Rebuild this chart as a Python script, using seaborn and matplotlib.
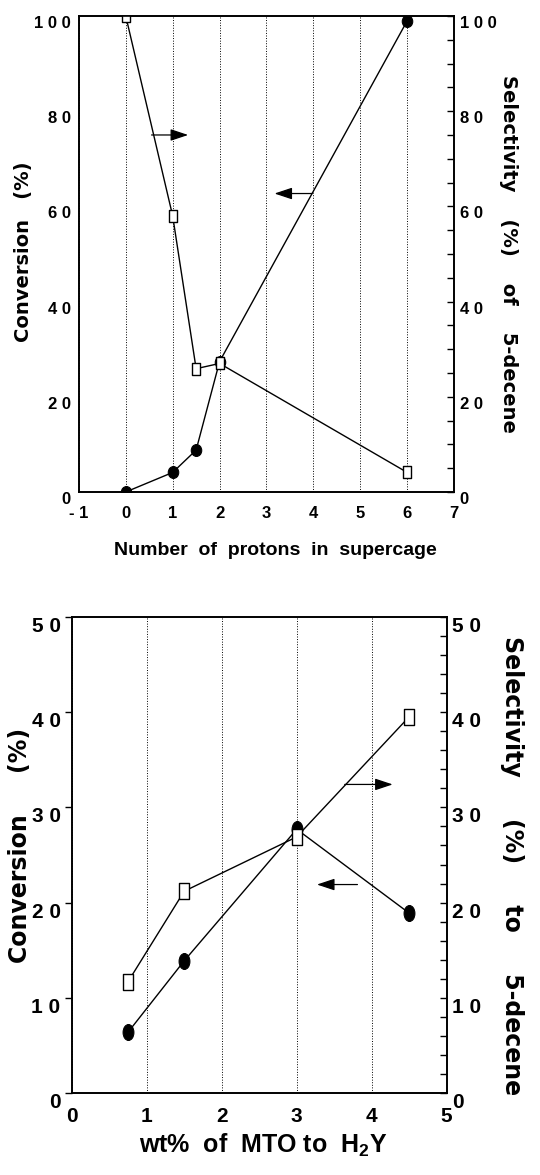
import numpy as np
import pandas as pd
import seaborn as sns
import matplotlib.pyplot as plt
import matplotlib.path as mpath
import matplotlib.transforms as mtransforms
from matplotlib.ticker import MultipleLocator, FuncFormatter

# top panel: number of protons in supercage
protons = [0, 1, 1.5, 2, 6]
conv_protons = [0, 4.1, 8.8, 27.4, 99.0]
sel_protons = [100, 58, 25.9, 27, 4.1]

# bottom panel: wt% of MTO to H2Y
mto_wt = [0.75, 1.5, 3, 4.5]
conv_mto = [6.4, 13.9, 27.7, 18.9]
sel_mto = [11.7, 21.2, 26.9, 39.5]

sns.set_style('ticks')
plt.rcParams['font.family'] = ['Liberation Sans', 'DejaVu Sans']
plt.rcParams['font.weight'] = 'bold'
plt.rcParams['axes.labelweight'] = 'bold'
for k in ['text.color', 'axes.labelcolor', 'xtick.color', 'ytick.color']:
    plt.rcParams[k] = 'black'
plt.rcParams['mathtext.fontset'] = 'custom'
plt.rcParams['mathtext.rm'] = 'Liberation Sans:bold'
plt.rcParams['mathtext.default'] = 'rm'

wide = 'DejaVu Sans'


def oval(w):
    return mpath.Path.unit_circle().transformed(mtransforms.Affine2D().scale(w, 1))


def box(w):
    return mpath.Path([(-w, -1), (w, -1), (w, 1), (-w, 1), (-w, -1)], closed=True)


def spaced(v, pos):
    return ' '.join(str(int(round(v))))


fig = plt.figure(figsize=(5.4, 11.75), dpi=100)
ax1 = fig.add_axes([0.146, 0.5813, 0.695, 0.4051])
ax2 = fig.add_axes([0.1328, 0.0695, 0.6944, 0.4057])


def panel(ax, x, conv, sel, xlim, ylim, ystep, minor, circ, sq, msz_c, msz_s, tick_fs):
    sns.lineplot(x=x, y=conv, ax=ax, color='black', lw=1.0, marker=circ,
                 markersize=msz_c, markerfacecolor='black', markeredgecolor='black')
    axr = ax.twinx()
    sns.lineplot(x=x, y=sel, ax=axr, color='black', lw=1.0, marker=sq,
                 markersize=msz_s, markerfacecolor='white', markeredgecolor='black',
                 markeredgewidth=1.0)
    for a in (ax, axr):
        a.set_xlim(*xlim)
        a.set_ylim(*ylim)
        for s in a.spines.values():
            s.set_visible(True)
            s.set_linewidth(1.2)
            s.set_color('black')
    ax.xaxis.set_major_locator(MultipleLocator(1))
    ax.yaxis.set_major_locator(MultipleLocator(ystep))
    axr.yaxis.set_major_locator(MultipleLocator(ystep))
    axr.yaxis.set_minor_locator(MultipleLocator(minor))
    ax.xaxis.set_major_formatter(FuncFormatter(spaced))
    ax.yaxis.set_major_formatter(FuncFormatter(spaced))
    axr.yaxis.set_major_formatter(FuncFormatter(spaced))
    ax.grid(axis='x', linestyle=':', color='black', lw=0.7)
    ax.tick_params(axis='x', length=0, pad=10, labelsize=tick_fs)
    axr.tick_params(axis='y', which='both', direction='in', length=5, width=1, pad=4, labelsize=tick_fs)
    plt.setp(ax.get_yticklabels(), va='top')
    plt.setp(axr.get_yticklabels(), va='top')
    return axr


r1 = panel(ax1, protons, conv_protons, sel_protons, (-1, 7), (0, 100), 20, 5,
           oval(0.88), box(0.8), 8.6, 8.0, 12)
ax1.tick_params(axis='y', length=0, pad=6, labelsize=12)
ax1.set_xlabel('Number  of  protons  in  supercage', fontsize=14)
ax1.xaxis.set_label_coords(0.525, -0.105)
ax1.set_ylabel('Conversion   (%)', fontsize=14, fontfamily=wide)
ax1.yaxis.set_label_coords(-0.123, 0.504)
r1.set_ylabel('Selectivity    (%)    of    5-decene', fontsize=14, fontfamily=wide,
              rotation=270, va='center')
r1.yaxis.set_label_coords(1.144, 0.50)

r2 = panel(ax2, mto_wt, conv_mto, sel_mto, (0, 5), (0, 50), 10, 2,
           oval(0.68), box(0.63), 11.5, 11.5, 15)
ax2.tick_params(axis='y', length=5, width=1, pad=3, labelsize=15)
ax2.set_xlabel('wt%  of  MTO to  H$_2$Y', fontsize=18)
ax2.xaxis.set_label_coords(0.51, -0.08)
ax2.set_ylabel('Conversion     (%)', fontsize=17, fontfamily=wide)
ax2.yaxis.set_label_coords(-0.105, 0.52)
r2.set_ylabel('Selectivity     (%)     to     5-decene', fontsize=17, fontfamily=wide,
              rotation=270, va='center')
r2.yaxis.set_label_coords(1.174, 0.477)

# direction arrows
arrow = dict(arrowstyle='-|>,head_length=0.9,head_width=0.3', color='black', lw=0.9,
             mutation_scale=12, shrinkA=0, shrinkB=0)
ax1.annotate('', xy=(1.33, 75), xytext=(0.55, 75), arrowprops=arrow)
ax1.annotate('', xy=(3.17, 62.7), xytext=(3.97, 62.7), arrowprops=arrow)
ax2.annotate('', xy=(4.28, 32.4), xytext=(3.64, 32.4), arrowprops=arrow)
ax2.annotate('', xy=(3.27, 21.9), xytext=(3.81, 21.9), arrowprops=arrow)

plt.savefig('out.png', dpi=100)
